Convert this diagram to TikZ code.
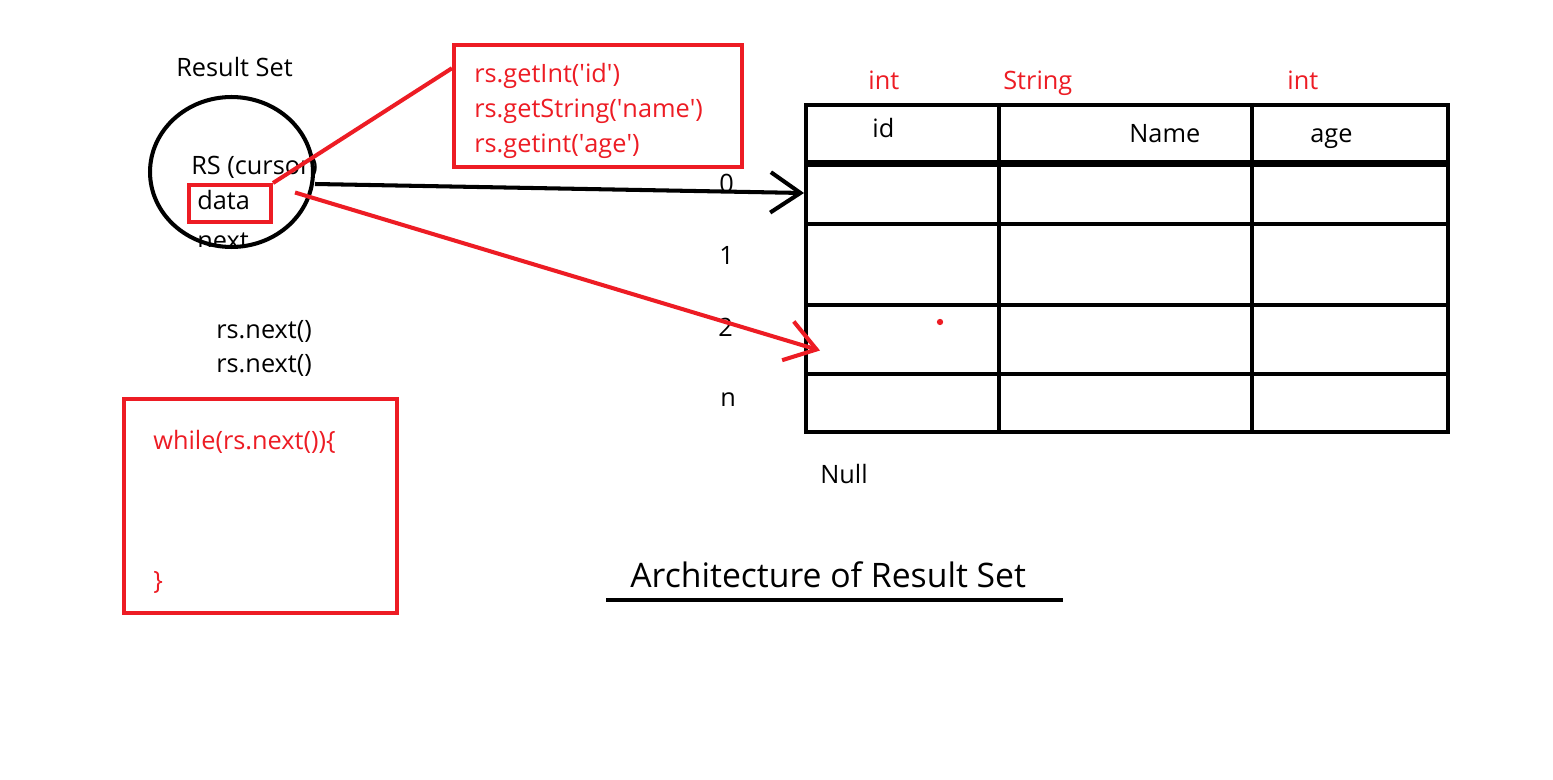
\documentclass[tikz,border=0pt]{standalone}
\usepackage{fontspec}
\setmainfont{Open Sans}
\usepackage{tikz}
\usetikzlibrary{positioning,shapes.geometric,arrows.meta,calc}
\definecolor{paintred}{HTML}{ED1C24}

\begin{document}
\begin{tikzpicture}[
    x=0.02cm, y=-0.02cm,
    every node/.style={font=\fontsize{14.4}{17}\selectfont, inner sep=0pt},
    lbl/.style={anchor=base west},
    redlbl/.style={anchor=base west, text=paintred},
    redbox/.style={draw=paintred, line width=2.3pt, anchor=north west},
    row/.style={draw, line width=2.3pt, minimum width=12.84cm, anchor=north west},
    arr/.style={-{Straight Barb[length=17pt, width=23pt]}, line width=2.3pt},
]
    \fill[white] (0,0) rectangle (1553,780);

    \node[lbl] (rset) at (176,77) {Result Set};
    \node[lbl] (cur) at (191,175) {RS (cursor)};
    \node[lbl] (dat) at (197,210) {data};
    \begin{scope}
        \clip (150,222) rectangle (320,247);
        \node[lbl] (nxt) at (197,250) {next};
    \end{scope}
    \node[redbox, minimum width=1.64cm, minimum height=0.74cm] (dbox) at (187,183) {};
    \node[draw, ellipse, line width=2.3pt, minimum width=3.26cm, minimum height=3cm] (rs) at (231.5,172) {};

    \node[redbox, minimum width=5.76cm, minimum height=2.44cm] (get) at (452,43) {};
    \node[redlbl] (g1) at (474,83) {rs.getInt(\textquotesingle id\textquotesingle)};
    \node[redlbl] (g2) at (474,118) {rs.getString(\textquotesingle name\textquotesingle)};
    \node[redlbl] (g3) at (474,153) {rs.getint(\textquotesingle age\textquotesingle)};

    \node[row, minimum height=1.14cm] (hdr) at (804,103) {};
    \node[row, minimum height=1.24cm] (r0) at (804,160) {};
    \node[row, minimum height=1.62cm] (r1) at (804,222) {};
    \node[row, minimum height=1.38cm] (r2) at (804,303) {};
    \node[row, minimum height=1.16cm] (rn) at (804,372) {};
    \draw[line width=3.4pt] (hdr.south west) -- (hdr.south east);
    \draw[line width=2.3pt] (999,103) -- (999,430);
    \draw[line width=2.3pt] (1252,103) -- (1252,430);

    \node[redlbl] (t1) at (868,90) {int};
    \node[redlbl] (t2) at (1003,90) {String};
    \node[redlbl] (t3) at (1287,90) {int};
    \node[lbl] (c1) at (872,138) {id};
    \node[lbl] (c2) at (1129,143) {Name};
    \node[lbl] (c3) at (1310,143) {age};

    \node[lbl] (i0) at (719,193) {0};
    \node[lbl] (i1) at (719,265) {1};
    \node[lbl] (i2) at (718,337) {2};
    \node[lbl] (in) at (720,407) {n};
    \node[lbl] (nul) at (820,484) {Null};
    \fill[paintred] (940,322) circle (1.8pt);

    \node[lbl] (n1) at (216,339) {rs.next()};
    \node[lbl] (n2) at (216,373) {rs.next()};
    \node[redbox, minimum width=5.46cm, minimum height=4.28cm] (loop) at (122,397) {};
    \node[redlbl] (w1) at (153,450) {while(rs.next())\{};
    \node[redlbl] (w2) at (153,590) {\}};

    \node[lbl, font=\fontsize{19.2}{23}\selectfont] (title) at (630,588) {Architecture of Result Set};
    \draw[line width=2.3pt] (606,600) -- (1063,600);

    \draw[paintred, line width=2.3pt] (dbox.north east) -- ($(get.north west)!0.2!(get.south west)$);
    \draw[arr] ($(rs.east)+(0,12)$) -- (r0.west);
    \draw[arr, paintred] ($(dbox.east)+(22,-11)$) -- ($(r2.west)+(16,11)$);
\end{tikzpicture}
\end{document}
